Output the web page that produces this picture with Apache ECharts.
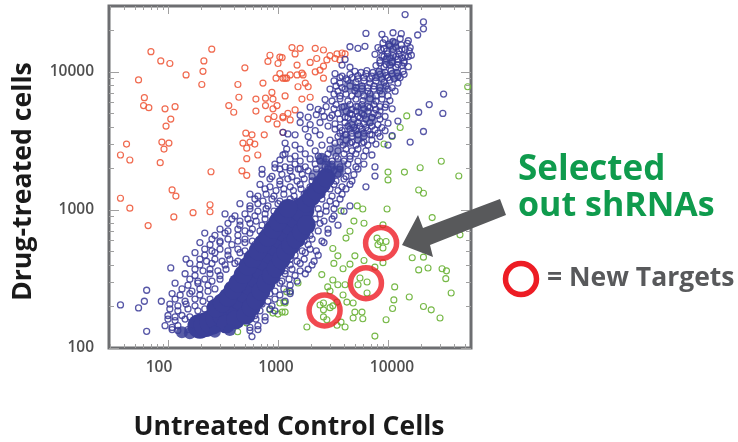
<!DOCTYPE html>
<html><head><meta charset="utf-8">
<script src="https://cdn.jsdelivr.net/npm/echarts@6/dist/echarts.min.js"></script>
<style>html,body{margin:0;background:#fff}#c{width:738px;height:442px}#c canvas{filter:blur(.45px)}</style></head>
<body><div id="c"></div>
<script>
const xTickLabels = [100, 1000, 10000];
const yTickLabels = [100, 1000, 10000];
const xMinorTicks = [30,40,50,60,70,80,90,200,300,400,500,600,700,800,900,2000,3000,4000,5000,6000,7000,8000,9000,20000,30000,40000,50000];
const yMinorTicks = [200,300,400,500,600,700,800,900,2000,3000,4000,5000,6000,7000,8000,9000,20000];
const newTargets = [[8650,575],[6300,295],[2650,187]];
const depleted = [[70,14000],[86,12000],[104,11500],[54,8750],[61,6500],[60,5700],[67,5500],[94,5400],[116,5600],[106,4550],[96,4050],[42,3000],[37,2500],[45,2300],[88,3100],[102,3050],[92,2760],[85,2200],[246,1890],[250,14600],[212,12000],[208,10100],[146,9500],[203,8100],[500,10700],[432,8100],[441,6550],[357,5700],[396,5100],[630,5200],[630,6350],[730,8300],[845,13200],[1040,12800],[810,11900],[1000,11500],[960,9000],[1040,9700],[1160,9000],[880,7100],[770,6450],[900,6350],[1160,6700],[980,5700],[770,5700],[900,5400],[810,4550],[920,4750],[1110,4750],[980,4200],[750,3500],[510,3600],[580,3500],[556,3100],[480,3050],[615,3000],[520,2800],[655,2500],[520,2350],[470,1920],[520,1780],[37,1215],[45,1030],[109,1396],[118,1260],[66,770],[113,890],[169,955],[241,1090],[241,970],[1340,15000],[1590,14800],[1430,13500],[2180,14800],[2590,14400],[2970,13100],[3820,13700],[3300,12500],[4070,13500],[3660,12200],[1090,12700],[1490,11200],[1960,11700],[2180,10000],[2590,11000],[1650,9800],[1200,9000],[1490,9500],[2590,9000],[1880,7800],[1520,7800],[1960,6550],[1650,6350],[1430,5300],[1230,5000],[1110,4650],[1290,4490],[1690,9500],[1290,9500],[1110,9000],[1770,8300],[2410,10300],[2250,12500],[2780,12200],[3440,13500],[1110,3650]];
const enriched = [[10000,1880],[14100,1880],[10000,1650],[44000,1760],[19000,1396],[21000,1320],[3740,985],[5250,1070],[5900,1015],[9800,1015],[25200,880],[4900,830],[6050,800],[4510,700],[4150,625],[9000,780],[7950,625],[9600,590],[8450,590],[9000,530],[8100,560],[45100,660],[6050,430],[5000,465],[16600,450],[21000,455],[3500,465],[3150,525],[3220,410],[4510,405],[3900,375],[7600,385],[9000,415],[19000,368],[23100,380],[31000,375],[34000,362],[33500,318],[2500,340],[1520,296],[3150,311],[2830,277],[5560,321],[6450,301],[5340,287],[3500,287],[2970,259],[4070,287],[3900,242],[6450,250],[11500,277],[37500,250],[15600,234],[11300,223],[11000,193],[21000,200],[24700,189],[29700,165],[9600,160],[4230,215],[4820,212],[5000,182],[5800,182],[4820,165],[5900,163],[3440,215],[2590,212],[2970,196],[3150,202],[2590,189],[2590,168],[3740,154],[3440,146],[4070,142],[7600,122],[1830,142],[1200,255],[1290,255],[1090,182],[1160,182],[1040,212],[1130,215],[900,179],[845,189],[1000,176],[1160,212],[590,182],[520,152],[430,131],[14800,4800],[12900,3950],[10900,3400],[9200,3000],[30500,2250],[19600,2020],[53000,7800],[2410,205],[2780,160]];
const unchanged = [[14300,26000],[21000,23000],[21000,20500],[6300,19000],[8800,18700],[11100,19200],[13200,18900],[18600,18500],
[9400,17200],[11100,16600],[12900,17400],[15300,16800],
[4510,15200],[5330,14800],[6170,15300],[8100,15000],[9200,14700],[10400,15400],[11800,15100],[13400,14600],[15900,15000],
[7610,13400],[8810,13000],[9900,13500],[11100,13100],[12600,13400],[14300,12900],[16300,13200],
[4070,12300],[8450,12100],[9600,12400],[10900,11900],[12300,12300],[14000,12000],
[3820,11200],[4510,10800],[7770,11100],[9200,10900],[10400,11200],[11800,10800],[13400,11100],[15300,10900],
[3300,9700],[3820,9300],[4510,9600],[5330,9400],[6300,9700],[7140,9300],[8450,9600],[9600,9400],[10900,9700],[12300,9300],[14000,9600],
[3230,8600],[3660,8300],[4320,8700],[5110,8400],[6040,8600],[6850,8300],[7770,8600],[9200,8400],[10400,8700],[12300,8300],
[2970,7500],[3510,7250],[4070,7500],[5000,7300],[5800,7550],[6560,7250],[7450,7500],[8450,7300],[10000,7500],[11600,7250],
[2680,6300],[3100,6150],[3660,6400],[4320,6150],[5110,6350],[5920,6200],[6850,6400],[7770,6150],[8810,6350],[10400,6200],
[1960,5550],[2320,5350],[2740,5600],[3230,5400],[3820,5550],[4700,5350],[5330,5600],[6040,5400],[6850,5500],[7770,5350],[9400,5550],[10900,5400],
[1590,4850],[1880,4700],[2230,4900],[2620,4750],[3100,4850],[4070,4700],[4700,4900],[5330,4750],[6040,4850],[7140,4700],[8100,4850],[9400,4750],
[1590,4300],[1960,4150],[2410,4300],[3300,4200],[4070,4300],[4700,4150],[5330,4300],[6040,4200],[6850,4300],[8100,4150],[10000,4250],
[1770,3850],[2180,3750],[3300,3850],[3820,3750],[4510,3850],[5110,3750],[5800,3850],[6560,3750],[7610,3800],[9400,3750],
[1430,3500],[1880,3400],[2410,3500],[3510,3400],[4070,3500],[4700,3400],[5330,3500],[6040,3400],[7140,3500],[8450,3400],[10900,3450],
[1160,3050],[1430,2950],[1960,3050],[2510,2950],[3300,3050],[3900,2950],[4510,3050],[5110,2950],[5800,3050],[6560,2950],[7770,3000],[10000,2950],
[1160,2550],[1430,2450],[1770,2550],[2320,2450],[2850,2550],[3370,2450],[3980,2550],[4510,2450],[5110,2550],[6040,2450],[7140,2500],
[938,2150],[1160,2050],[1430,2150],[1770,2050],[2180,2150],[2680,2050],[3100,2150],[3660,2050],[4320,2150],[5110,2050],[6040,2150],[7610,2050],
[716,1820],[881,1750],[1085,1810],[1340,1740],[1660,1810],[2040,1750],[2510,1800],[2970,1750],[3510,1810],[4150,1750],[4900,1800],[7610,1760],
[686,1530],[845,1470],[1040,1530],[1290,1470],[1590,1530],[1960,1470],[2320,1530],[2740,1470],[3230,1530],[3820,1470],[4510,1530],[6300,1470],
[556,1300],[657,1260],[780,1300],[919,1260],[1130,1300],[1400,1260],[1730,1300],[2130,1260],[2510,1300],[3100,1260],[3820,1300],
[451,1110],[556,1070],[657,1110],[811,1070],[1000,1110],[1230,1070],[1590,1110],[2740,1070],[3370,1110],[4510,1070],
[330,935],[406,905],[501,935],[617,905],[763,935],[938,905],[1160,935],[1770,905],[2410,935],[3230,905],
[351,800],[451,775],[556,800],[716,775],[881,800],[1960,775],[2410,800],[3510,775],
[216,680],[267,655],[330,680],[432,655],[556,680],[716,655],[1590,680],[1960,655],[2850,680],
[195,580],[241,560],[297,580],[381,560],[501,580],[617,560],[1520,580],[1880,560],[2620,580],
[176,490],[216,470],[267,490],[351,470],[451,490],[1430,470],[1770,490],[2320,470],
[158,410],[195,400],[251,410],[330,400],[406,410],[1290,400],[1590,410],[2040,400],
[143,345],[176,335],[241,345],[297,335],[1160,345],[1430,335],[1770,345],
[116,295],[152,285],[187,295],[231,285],[1040,295],[1290,285],
[109,248],[129,242],[158,248],[195,242],[845,248],[1040,242],[1290,248],
[104,208],[123,202],[146,208],[176,202],[716,208],[881,202],
[100,172],[116,168],[134,172],[158,168],[617,172],[763,168],
[94,145],[109,141],[123,145],[556,141],[657,145],
[1110,3650],[1230,3550],[1200,2760],[1110,2500],[1040,2300],[938,2020],[716,1970],[1290,2020],[1530,1980],
[37,205],[54,195],[61,218],[64,262],[64,132],[87,218],[106,380],[146,440],[580,121],
[32000,6900],[23700,5800],[19000,5100],[31500,5000],[21000,3700],[15900,3100],[12300,4400]];
const unchangedDense = [
[9000,16200],[10200,15800],[11600,16300],[13200,15700],[15000,16100],
[8630,14500],[9800,14200],[11100,14600],[12600,14200],[14300,14500],[15600,14200],
[9200,12900],[10400,12600],[11800,12900],[13400,12600],[15300,12900],
[8450,11600],[9600,11300],[10900,11600],[12300,11300],[14000,11600],
[5000,10100],[5680,9900],[6430,10200],[7300,9900],[8270,10100],[9400,9900],[10650,10200],[12050,9900],[13700,10100],
[3660,9100],[4150,8900],[4700,9100],[5330,8900],[6040,9100],[6850,8900],[7770,9100],[8810,8900],[10000,9100],[11350,8900],[12900,9100],
[3370,7900],[3820,7700],[4510,7900],[5110,7700],[5800,7900],[6560,7700],[7450,7900],[8450,7700],[9600,7900],[10900,7700],
[3230,6900],[3660,6700],[4150,6900],[4700,6700],[5330,6900],[6040,6700],[6850,6900],[7770,6700],[8810,6900],[10000,6700],
[3370,5800],[3980,5600],[4510,5800],[5110,5600],[5800,5800],[6560,5600],[7450,5800],[8450,5600],[9600,5800],
[2510,5200],[3510,5000],[4150,5200],[4510,5000],[5110,5200],[5800,5000],[6560,5200],[7450,5000],[8450,5200],
[2970,4650],[3660,4550],[4320,4650],[4900,4550],[5560,4650],[6300,4550],[7140,4650],[8450,4550],
[2850,4050],[3660,3950],[4320,4050],[4900,3950],[5560,4050],[6300,3950],[7140,4050],[8810,3950],
[3660,3600],[4150,3520],[4700,3600],[5330,3520],[6040,3600],[6850,3520],[8100,3600],
[2970,3200],[3660,3100],[4150,3200],[4700,3100],[5330,3200],[6040,3100],[7140,3200],
[1590,2760],[2180,2680],[2970,2760],[3510,2680],[4150,2760],[4700,2680],[5330,2760],[6300,2680],
[1290,2340],[1590,2260],[1960,2340],[2410,2260],[2740,2340],[3100,2260],[3510,2340],[3980,2260],[4510,2340],[5330,2260],
[1040,1980],[1290,1920],[1590,1980],[1880,1920],[2230,1980],[2510,1920],[2850,1980],[3230,1920],[3660,1980],[4320,1920],[5330,1980],
[845,1680],[1040,1620],[1230,1680],[1490,1620],[1730,1680],[2040,1620],[2320,1680],[2620,1620],[2970,1680],[3370,1620],[3980,1680],[4700,1620],
[763,1420],[960,1380],[1130,1420],[1380,1380],[1620,1420],[1880,1380],[2230,1420],[2510,1380],[2970,1420],[3510,1380],[4150,1420],
[617,1200],[730,1160],[881,1200],[1040,1160],[1290,1200],[1490,1160],[1810,1200],[2130,1160],[2510,1200],[2970,1160],[3660,1200],
[556,1020],[657,980],[780,1020],[919,980],[1130,1020],[1430,980],[2320,1020],[2740,980],[3230,1020],[3980,980],
[381,860],[451,830],[533,860],[633,830],[763,860],[881,830],[2180,860],[2620,830],[3100,860],
[297,725],[351,705],[432,725],[501,705],[584,725],[686,705],[811,725],[1660,705],[1960,725],[2320,705],[2850,725],
[251,615],[297,595],[351,615],[432,595],[501,615],[584,595],[1430,615],[1730,595],[2040,615],[2510,595],
[216,520],[251,505],[297,520],[351,505],[432,520],[501,505],[1430,520],[1660,505],[1960,520],[2230,505],
[195,440],[224,425],[267,440],[310,425],[365,440],[432,425],[1290,440],[1490,425],[1730,440],[2130,425],
[176,372],[208,362],[241,372],[284,362],[337,372],[1160,362],[1340,372],[1590,362],[1880,372],
[158,315],[187,305],[216,315],[251,305],[297,315],[1085,305],[1260,315],[1490,305],
[134,268],[165,258],[195,268],[231,258],[267,268],[938,258],[1130,268],[1290,258],
[116,226],[143,218],[176,226],[208,218],[241,226],[811,218],[938,226],[1160,218],
[104,192],[123,186],[152,192],[187,186],[216,192],[686,186],[845,192],[938,186],
[100,162],[116,158],[143,162],[176,158],[630,162],[763,158],
[109,136],[123,134],[152,136],[556,134],[657,136]];
const denseSpine = [[195,144],[222,148],[251,154],[285,163],[324,176],[368,190],[415,205],[465,230],[515,258],[570,295],[630,335],[700,385],[780,442],[870,500],[960,570],[1070,640],[1180,716],[1310,805],[1460,900],[1650,1000]];
const denseFlank = [[272,195],[311,213],[351,233],[390,264],[432,296],[482,340],[533,393],[590,445],[657,505],[730,570],[811,635],[900,725],[1000,820],[1110,925],[1230,1030],[337,149],[412,160],[512,173],[570,197],[630,223],[700,258],[780,296],[870,335],[960,380],[1070,435],[1180,495],[1310,555],[1460,615],[1630,695],[1810,780],[1810,1120],[2000,1240],[2230,1370],[2480,1530],[2740,1710]];
const denseEdge = [[134,130],[158,128],[267,131],[365,135],[2970,2050],[2500,2350],[3500,1900]];
const denseUpper = [[2680,2120],[3300,2720],[4070,3210],[4700,4100],[5800,5300],[6850,6400],[8810,7600],[10400,12200],[8450,9500],[11600,9500],[10900,15600],[5560,7400],[4510,7900],[4070,5300],[6850,4490],[5560,3450],[3660,2100],[2180,1780]];

const tickStyle = {color:'#a0a0a0', width:1};
const frameColor = '#6d6e71';
function labelText(v){
  if(v===100) return '{l|'+v+'}';
  if(v===1000) return '{m|'+v+'}';
  return '{r|'+v+'}';
}
const labelFont = {fontFamily:'Open Sans', fontSize:15.5, color:'#4f4f4f', fontWeight:600};
function xAx(position, major, withLabels){
  return {type:'log', logBase:10, min:29.1, max:56800, position, gridIndex:0, splitLine:{show:false}, axisLine:{show:false},
    axisTick:{show:true, inside:true, length:major?8:4, lineStyle:tickStyle, customValues: major?xTickLabels:xMinorTicks},
    axisLabel: withLabels ? {show:true, customValues:xTickLabels, margin:12, formatter:labelText,
      rich:{l:{...labelFont,padding:[0,18,0,0]}, m:{...labelFont,padding:[0,4,0,0]}, r:{...labelFont,padding:[0,0,0,8]}}} : {show:false}};
}
function yAx(position, major, withLabels){
  return {type:'log', logBase:10, min:100, max:30000, position, gridIndex:0, splitLine:{show:false}, axisLine:{show:false},
    axisTick:{show:true, inside:true, length:major?10:5, lineStyle:tickStyle, customValues: major?yTickLabels:yMinorTicks},
    axisLabel: withLabels ? {show:true, customValues:yTickLabels, margin:15, formatter:v=>String(v), ...labelFont} : {show:false}};
}
function open(name,data,color,opacity,z,width){
  return {name,type:'scatter',data,symbol:'circle',symbolSize:6,z,clip:true,silent:true,
    itemStyle:{color:'transparent',borderColor:color,borderWidth:width,opacity}};
}
const chart = echarts.init(document.getElementById('c'),null,{renderer:'canvas'});
const textBold = 'Open Sans';
chart.setOption({
  animation:false, backgroundColor:'#fff',
  grid:{left:109,top:6,width:362,height:342,show:true,borderColor:frameColor,borderWidth:3,backgroundColor:'transparent'},
  xAxis:[xAx('bottom',true,true),xAx('bottom',false,false),xAx('top',true,false),xAx('top',false,false)],
  yAxis:[yAx('left',true,true),yAx('left',false,false),yAx('right',true,false),yAx('right',false,false)],
  series:[
    open('Enriched',depleted,'#ee5a3c',0.9,2,1.2),
    open('Depleted',enriched,'#6fb43c',0.95,2,1.1),
    open('Unchanged',unchanged,'#3a3a98',0.85,3,1.3),
    open('Unchanged dense',unchangedDense,'#3a3a98',0.85,3,1.3),
    {name:'Dense upper',type:'scatter',data:denseUpper,symbol:'circle',symbolSize:13,z:3,silent:true,itemStyle:{color:'#3a3f98',opacity:0.55}},
    {name:'Dense',type:'scatter',data:denseSpine,symbol:'circle',symbolSize:25,z:4,silent:true,itemStyle:{color:'#3a3f98',opacity:1}},
    {name:'Dense flank',type:'scatter',data:denseFlank,symbol:'circle',symbolSize:19,z:4,silent:true,itemStyle:{color:'#3a3f98',opacity:1}},
    {name:'Dense edge',type:'scatter',data:denseEdge,symbol:'circle',symbolSize:12,z:4,silent:true,itemStyle:{color:'#3a3f98',opacity:0.85}},
    {name:'New Targets',type:'scatter',data:newTargets,symbol:'circle',symbolSize:31,z:6,silent:true,
      itemStyle:{color:'transparent',borderColor:'#ed1c24',borderWidth:5.5}}
  ],
  graphic:[
    {type:'text',z:10,rotation:Math.PI/2,x:23,y:301,style:{text:'Drug-treated cells',font:'700 26.7px "'+textBold+'"',fill:'#1a1a1a',textAlign:'left',textVerticalAlign:'middle'}},
    {type:'text',z:10,x:289,y:427,style:{text:'Untreated Control Cells',font:'700 26.5px "'+textBold+'"',fill:'#1a1a1a',textAlign:'center',textVerticalAlign:'middle'}},
    {type:'text',z:10,x:518,y:170,style:{text:'Selected',font:'700 35px "'+textBold+'"',fill:'#0f9b4d',textAlign:'left',textVerticalAlign:'middle'}},
    {type:'text',z:10,x:518,y:206,style:{text:'out shRNAs',font:'700 34px "'+textBold+'"',fill:'#0f9b4d',textAlign:'left',textVerticalAlign:'middle'}},
    {type:'text',z:10,x:547,y:278,style:{text:'= New Targets',font:'700 26.5px "'+textBold+'"',fill:'#58595b',textAlign:'left',textVerticalAlign:'middle'}},
    {type:'circle',z:10,shape:{cx:521,cy:279,r:15.5},style:{fill:'transparent',stroke:'#ed1c24',lineWidth:5.5}},
    {type:'polygon',z:10,shape:{points:[[402,245],[418,215],[423,228],[500,199],[506,215],[430,245],[433,257]]},style:{fill:'#58595b'}}
  ]
});
</script></body></html>
